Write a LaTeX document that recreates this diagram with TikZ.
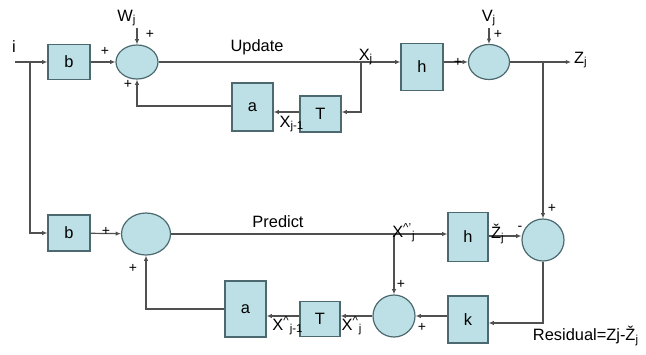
\documentclass[tikz,border=0pt]{standalone}
\usepackage{fontspec}
\setmainfont{Liberation Sans}
\usetikzlibrary{shapes.geometric,arrows.meta}
\definecolor{boxfill}{RGB}{188,224,229}
\definecolor{boxline}{RGB}{75,105,110}
\definecolor{wirecol}{RGB}{80,80,80}
\begin{document}
\begin{tikzpicture}[x=0.5pt,y=-0.5pt,>={Latex[length=2.6pt,width=2.2pt]},
  font=\fontsize{8.2}{9.5}\selectfont,
  blk/.style={draw=boxline,fill=boxfill,rectangle,inner sep=0pt,line width=0.6pt},
  sumnode/.style={draw=boxline,fill=boxfill,ellipse,inner sep=0pt,line width=0.6pt},
  wire/.style={draw=wirecol,line width=0.6pt},
  lbl/.style={inner sep=0pt},
  sgn/.style={inner sep=0pt,font=\fontsize{7}{7}\selectfont}]
\useasboundingbox (0,0) rectangle (646,354);
% update row
\node[blk, minimum width=21pt, minimum height=17.5pt] (b1) at (69,62) {b};
\node[sumnode, minimum width=21pt, minimum height=17pt] (s1) at (137,62) {};
\node[blk, minimum width=21pt, minimum height=23.5pt] (h1) at (422,67) {h};
\node[sumnode, minimum width=20.5pt, minimum height=17.5pt] (s2) at (489,62) {};
\node[blk, minimum width=20.5pt, minimum height=24pt] (a1) at (252.5,107) {a};
\node[blk, minimum width=20.5pt, minimum height=18pt] (T1) at (320.5,114) {T};
% predict row
\node[blk, minimum width=21pt, minimum height=18pt] (b2) at (69,233) {b};
\node[sumnode, minimum width=24.5pt, minimum height=21pt] (s3) at (146,234) {};
\node[blk, minimum width=20pt, minimum height=24.5pt] (h2) at (468,237) {h};
\node[circle, draw=boxline, fill=boxfill, inner sep=0pt, line width=0.6pt, minimum size=21pt] (s5) at (543,240) {};
\node[blk, minimum width=20pt, minimum height=23.5pt] (k) at (468,319.5) {k};
\node[circle, draw=boxline, fill=boxfill, inner sep=0pt, line width=0.6pt, minimum size=21pt] (s4) at (394,316) {};
\node[blk, minimum width=20pt, minimum height=17.5pt] (T2) at (320,319) {T};
\node[blk, minimum width=20.5pt, minimum height=28pt] (a2) at (245.5,309) {a};
% junctions and free ends
\coordinate (in) at (15,62);
\coordinate (ji) at (30,62);
\coordinate (wj) at (137,28);
\coordinate (xj) at (361,62);
\coordinate (vj) at (489,28);
\coordinate (zj) at (571,62);
\coordinate (jz) at (543,62);
\coordinate (xp) at (394,234);
% wires
\draw[wire,->] (in) -- (b1.west);
\draw[wire,->] (ji) |- (b2.west);
\draw[wire,->] (b1) -- (s1);
\draw[wire,->] (wj) -- (s1.north);
\draw[wire] (s1.east) -- (xj);
\draw[wire,->] (xj) -- (xj -| h1.west);
\draw[wire,->] (xj) |- (T1.east |- 0,112);
\draw[wire,->] (T1.west |- 0,112) -- (a1.east |- 0,112);
\draw[wire,->] (a1.west |- 0,106) -| (s1.south);
\draw[wire,->] (h1.east |- s2) -- (s2.west);
\draw[wire,->] (vj) -- (s2.north);
\draw[wire,->] (s2.east) -- (zj);
\draw[wire,->] (jz) -- (s5.north);
\draw[wire,->] (b2) -- (s3);
\draw[wire] (s3.east) -- (xp);
\draw[wire,->] (xp) -- (xp -| h2.west);
\draw[wire,->] (xp) -- (s4.north);
\draw[wire,->] (h2.east |- 0,236) -- (s5.west |- 0,236);
\draw[wire,->] (s5.south) |- (k.east |- 0,323);
\draw[wire,->] (k.west |- s4) -- (s4.east);
\draw[wire,->] (s4.west) -- (T2.east |- s4);
\draw[wire,->] (T2.west |- 0,316) -- (a2.east |- 0,316);
\draw[wire,->] (a2.west) -| (s3.south);
% labels
\node[lbl] (li) at (14,47) {i};
\node[lbl] (lw) at (127,18) {W\textsubscript{j}};
\node[lbl] (lup) at (257,47) {Update};
\node[lbl] (lx) at (366,57) {X\textsubscript{j}};
\node[lbl] (lx1) at (292,124) {X\textsubscript{j-1}};
\node[lbl] (lv) at (489,18) {V\textsubscript{j}};
\node[lbl] (lz) at (581,60) {Z\textsubscript{j}};
\node[lbl] (lpr) at (278,222) {Predict};
\node[lbl] (lxp) at (404,233) {X\textsuperscript{\textasciicircum’}\textsubscript{j}};
\node[lbl] (lzt) at (498,234) {Ž\textsubscript{j}};
\node[lbl] (lxa) at (288,326) {X\textsuperscript{\textasciicircum}\textsubscript{j-1}};
\node[lbl] (lxb) at (352,326) {X\textsuperscript{\textasciicircum}\textsubscript{j}};
\node[lbl] (lres) at (586,336) {Residual=Zj-Ž\textsubscript{j}};
% signs
\node[sgn] (p1) at (150,34) {+};
\node[sgn] (p2) at (105,51) {+};
\node[sgn] (p3) at (128,84) {+};
\node[sgn] (p4) at (458,62) {+};
\node[sgn] (p5) at (498,34) {+};
\node[sgn] (p6) at (106,231) {+};
\node[sgn] (p7) at (133,268) {+};
\node[sgn] (p8) at (552,208) {+};
\node[sgn] (p9) at (401,284) {+};
\node[sgn] (p10) at (422,327) {+};
\node[sgn] (m1) at (520,228) {-};
\end{tikzpicture}
\end{document}
